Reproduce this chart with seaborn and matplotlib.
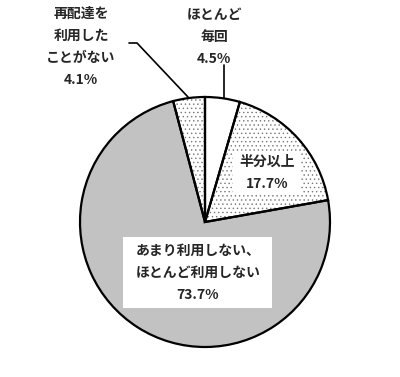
import matplotlib
matplotlib.use("Agg")
import matplotlib.pyplot as plt
from matplotlib.patches import Rectangle
import seaborn as sns

# data (clockwise from 12 o'clock)
labels = ["ほとんど\n毎回", "半分以上", "あまり利用しない、\nほとんど利用しない", "再配達を\n利用した\nことがない"]
shares = [4.5, 17.7, 73.7, 4.1]
faces = ["white", "white", "#c2c2c2", "white"]
hatches = ["", "....", "", "...."]

sns.set_style("white")
plt.rcParams["font.family"] = ["Noto Sans CJK JP", "DejaVu Sans"]
plt.rcParams["hatch.linewidth"] = 0.5

fig = plt.figure(figsize=(4.0, 3.77), dpi=100)
ax = fig.add_axes([0, 0, 1, 1])

H = 377
cx, cy, r = 205, H - 222, 125
# fill with dotted texture (grey dots), then outline on top
fill, _ = ax.pie(shares, startangle=90, counterclock=False, center=(cx, cy), radius=r,
                 colors=faces, wedgeprops=dict(edgecolor="#777777", linewidth=0),
                 frame=True)
for w, h in zip(fill, hatches):
    w.set_hatch(h)
ax.pie(shares, startangle=90, counterclock=False, center=(cx, cy), radius=r,
       wedgeprops=dict(fill=False, edgecolor="black", linewidth=1.6), frame=True)

ax.set_xlim(0, 400)
ax.set_ylim(0, H)
ax.set_aspect("equal")
ax.axis("off")

txt = dict(ha="center", va="center", fontsize=10, fontweight="bold", linespacing=1.75)
pct = [f"{v}%" for v in shares]

# ほとんど毎回
ax.text(214, H - 37, f"{labels[0]}\n{pct[0]}", **txt)
ax.plot([224, 224], [H - 65, H - 98], color="black", lw=1.2)

# 半分以上
ax.add_patch(Rectangle((233, H - 194), 68, 42, facecolor="white", edgecolor="none", zorder=3))
ax.text(267, H - 173, f"{labels[1]}\n{pct[1]}", zorder=4, **txt)

# あまり利用しない
ax.add_patch(Rectangle((123, H - 308), 149, 71, facecolor="white", edgecolor="none", zorder=3))
ax.text(198, H - 273, f"{labels[2]}\n{pct[2]}", zorder=4, **txt)

# 再配達を利用したことがない
ax.text(81, H - 47, f"{labels[3]}\n{pct[3]}", **txt)
ax.plot([129, 137, 188], [H - 43, H - 43, H - 97], color="black", lw=1.2)

fig.savefig("out.png", dpi=100)
